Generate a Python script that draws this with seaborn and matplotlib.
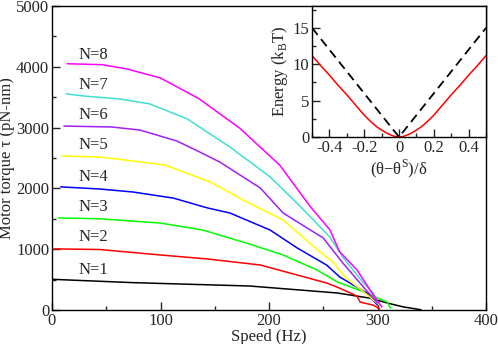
import numpy as np
import pandas as pd
import seaborn as sns
import matplotlib
matplotlib.use("Agg")
import matplotlib.pyplot as plt
from matplotlib.ticker import MultipleLocator

# torque-speed curves, N = 1..8 stator units
speed_n1 = [0, 75, 182, 263, 293, 309, 324, 340]
torque_n1 = [505, 450, 395, 280, 195, 115, 50, 5]
speed_n2 = [2, 44, 100, 143, 192, 253, 265, 281, 284, 296, 302]
torque_n2 = [1005, 995, 905, 840, 740, 445, 360, 230, 130, 80, 20]
speed_n3 = [6, 44, 100, 139, 182, 213, 244, 263, 287, 309, 312]
torque_n3 = [1515, 1500, 1430, 1315, 1085, 905, 660, 460, 300, 130, 30]
speed_n4 = [8, 44, 75, 112, 143, 164, 201, 226, 253, 265, 290, 300]
torque_n4 = [2025, 1990, 1940, 1840, 1680, 1595, 1315, 1020, 740, 545, 280, 80]
speed_n5 = [9, 44, 75, 104, 146, 176, 213, 247, 259, 270, 287, 302]
torque_n5 = [2535, 2515, 2450, 2385, 2105, 1810, 1480, 955, 790, 545, 300, 80]
speed_n6 = [11, 55, 81, 115, 136, 155, 192, 213, 250, 268, 287, 300]
torque_n6 = [3025, 3010, 2960, 2780, 2600, 2430, 2006, 1595, 1184, 773, 378, 115]
speed_n7 = [13, 29, 63, 90, 125, 164, 201, 229, 256, 268, 287, 296, 301]
torque_n7 = [3555, 3520, 3470, 3390, 3140, 2680, 2190, 1700, 1200, 870, 445, 280, 110]
speed_n8 = [14, 46, 69, 100, 135, 173, 210, 238, 256, 265, 281, 296, 304]
torque_n8 = [4050, 4035, 3965, 3815, 3480, 2990, 2380, 1700, 1320, 960, 660, 250, 50]

labels = ["N=1", "N=2", "N=3", "N=4", "N=5", "N=6", "N=7", "N=8"]
label_y = [660, 1200, 1690, 2190, 2710, 3210, 3700, 4190]
colors = ["black", "#ff0000", "#00ff00", "#0000ff", "#ffff00", "#a020f0", "#40e0d0", "#ff00ff"]

# inset: energy profile
theta = [-0.5, -0.45, -0.4, -0.35, -0.3, -0.25, -0.2, -0.175, -0.15, -0.125, -0.1, -0.075, -0.05, -0.025, 0,
         0.025, 0.05, 0.075, 0.1, 0.125, 0.15, 0.175, 0.2, 0.25, 0.3, 0.35, 0.4, 0.45, 0.5]
energy = [11.2, 9.8, 8.5, 7.1, 5.8, 4.4, 3.0, 2.4, 1.85, 1.35, 0.95, 0.6, 0.3, 0.08, 0,
          0.08, 0.3, 0.6, 0.95, 1.35, 1.85, 2.4, 3.0, 4.4, 5.8, 7.1, 8.5, 9.8, 11.2]
theta_v = [-0.5, 0, 0.5]
energy_v = [15, 0, 15]

sns.set_style("ticks")
plt.rcParams["font.family"] = ["Liberation Serif", "DejaVu Serif"]
plt.rcParams["mathtext.fontset"] = "custom"
plt.rcParams["mathtext.rm"] = "Liberation Serif"
fs = 12

speeds = [speed_n1, speed_n2, speed_n3, speed_n4, speed_n5, speed_n6, speed_n7, speed_n8]
torques = [torque_n1, torque_n2, torque_n3, torque_n4, torque_n5, torque_n6, torque_n7, torque_n8]

fig = plt.figure(figsize=(4.98, 3.44), dpi=100)
ax = fig.add_axes([0.1044, 0.0988, 0.8716, 0.8838])

for s, t, c, lab, ly in zip(speeds, torques, colors, labels, label_y):
    df = pd.DataFrame({"speed": s, "torque": t})
    sns.lineplot(data=df, x="speed", y="torque", color=c, lw=1.1, ax=ax, sort=False, estimator=None)
    ax.text(24, ly, lab, fontsize=fs, ha="left", va="center")

ax.set_xlim(0, 400)
ax.set_ylim(0, 5000)
ax.xaxis.set_major_locator(MultipleLocator(100))
ax.xaxis.set_minor_locator(MultipleLocator(50))
ax.yaxis.set_major_locator(MultipleLocator(1000))
ax.yaxis.set_minor_locator(MultipleLocator(500))
ax.tick_params(which="both", direction="in", width=1.0)
ax.tick_params(which="major", length=6, labelsize=fs, pad=2)
ax.tick_params(which="minor", length=3)
ax.set_xlabel("Speed (Hz)", fontsize=fs, labelpad=0)
ax.set_ylabel("Motor torque τ (pN-nm)", fontsize=fs, labelpad=1)
for sp in ax.spines.values():
    sp.set_linewidth(1.0)
    sp.set_color("black")

# inset
ins = fig.add_axes([0.6265, 0.6017, 0.3495, 0.3809])
ins.set_facecolor("white")
sns.lineplot(x=theta, y=energy, color="#ff0000", lw=1.1, ax=ins, sort=False, estimator=None)
sns.lineplot(x=theta_v, y=energy_v, color="black", lw=1.3, ax=ins, sort=False, estimator=None)
ins.lines[-1].set_dashes([5, 3])
ins.set_xlim(-0.5, 0.5)
ins.set_ylim(0, 18)
ins.xaxis.set_minor_locator(MultipleLocator(0.1))
ins.yaxis.set_major_locator(MultipleLocator(5))
ins.yaxis.set_minor_locator(MultipleLocator(2.5))
ins.set_xticks([-0.4, -0.2, 0, 0.2, 0.4])
ins.set_xticklabels(["-0.4", "-0.2", "0", "0.2", "0.4"])
ins.tick_params(which="both", direction="in", width=1.0)
ins.tick_params(which="major", length=6, labelsize=fs, pad=2)
ins.tick_params(which="minor", length=3)
ins.set_xlabel("(θ−θ$^\\mathregular{S}$)/δ", fontsize=fs, labelpad=1)
ins.set_ylabel("Energy (k$_\\mathregular{B}$T)", fontsize=fs, labelpad=2)
for sp in ins.spines.values():
    sp.set_linewidth(1.0)
    sp.set_color("black")

fig.savefig("out.png", dpi=100)
